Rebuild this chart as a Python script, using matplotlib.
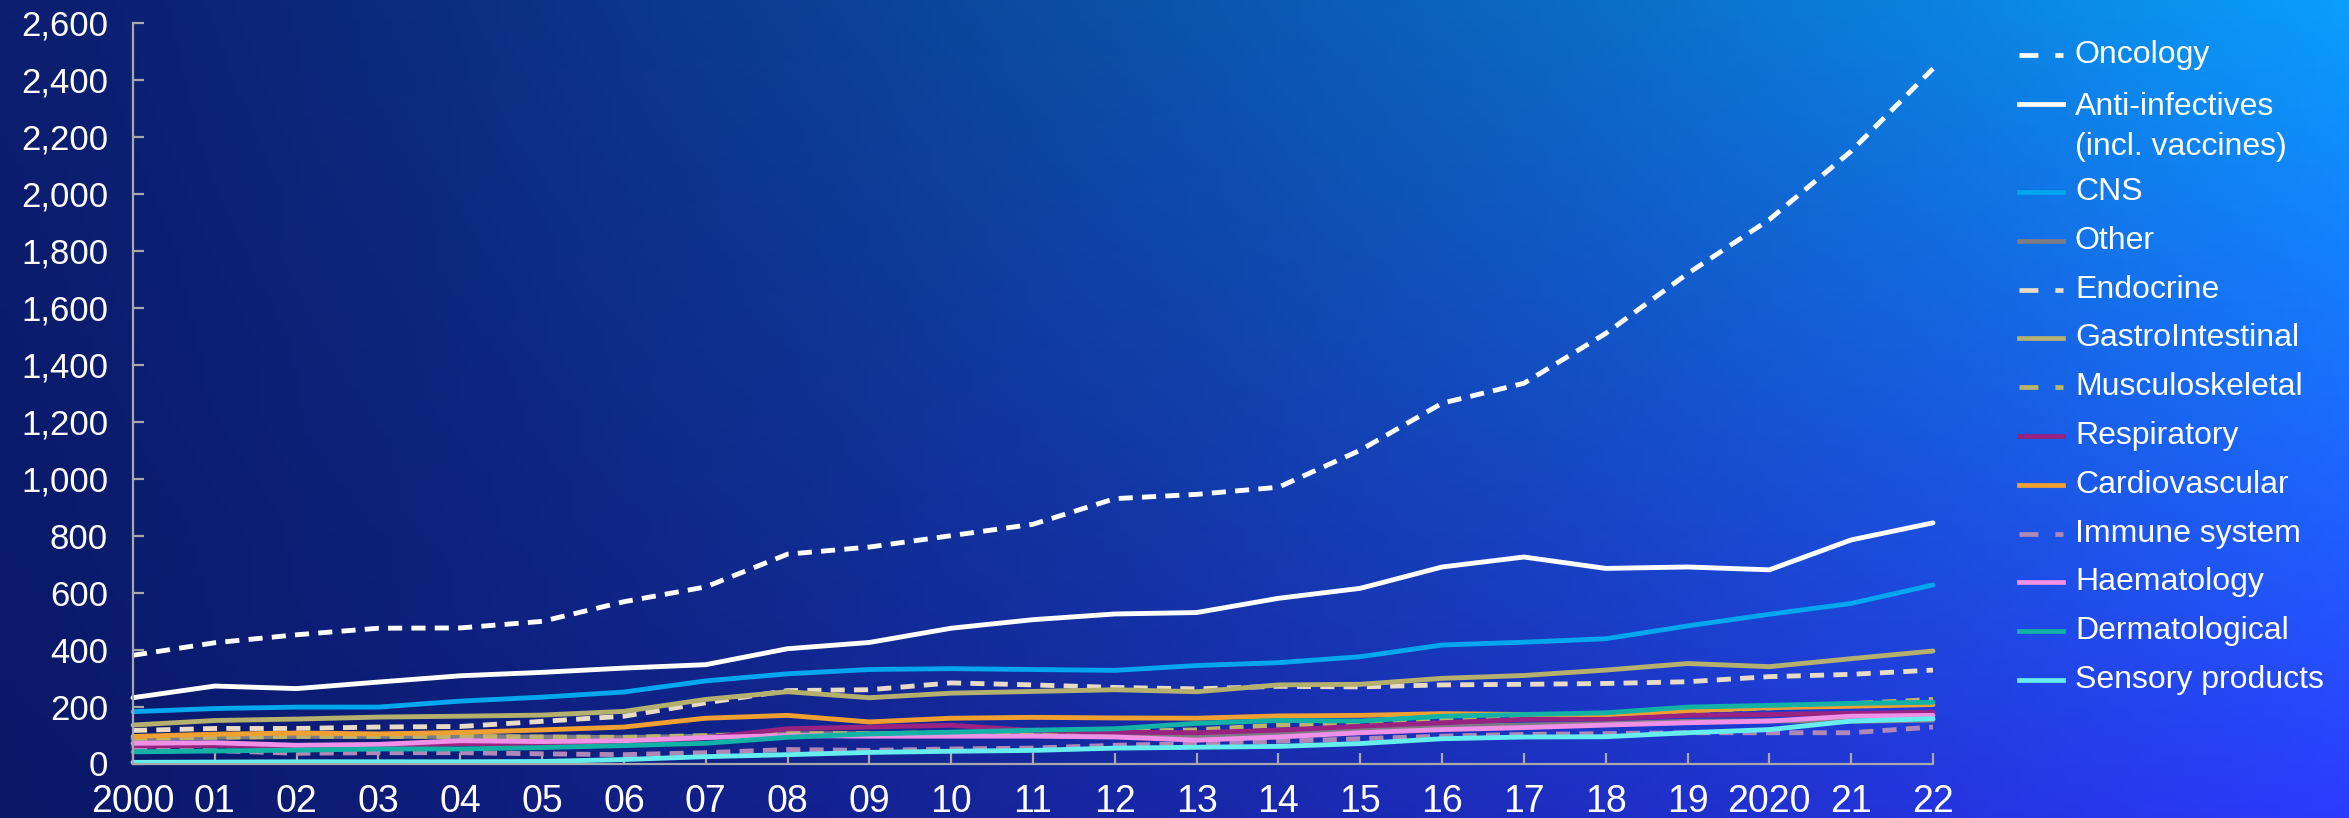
import numpy as np
import matplotlib
matplotlib.use("Agg")
import matplotlib.pyplot as plt
from matplotlib.lines import Line2D
from matplotlib.ticker import FuncFormatter

plt.rcParams['font.family'] = ['Liberation Sans', 'DejaVu Sans']

years = list(range(2000, 2023))
year_labels = ["2000", "01", "02", "03", "04", "05", "06", "07", "08", "09", "10",
               "11", "12", "13", "14", "15", "16", "17", "18", "19", "2020", "21", "22"]

oncology = [380, 424, 452, 475, 476, 499, 568, 620, 735, 760, 800, 840, 930, 945, 970,
            1100, 1265, 1335, 1510, 1720, 1910, 2150, 2440]
anti_infectives = [231, 272, 263, 286, 308, 320, 335, 347, 403, 425, 475, 505, 525, 530, 580,
                   615, 690, 725, 685, 690, 680, 785, 845]
cns = [182, 193, 198, 198, 219, 233, 251, 290, 315, 330, 333, 330, 327, 344, 354,
       375, 416, 426, 438, 483, 524, 562, 627]
other = [86, 92, 95, 95, 95, 93, 91, 96, 104, 105, 105, 102, 100, 96, 105,
         120, 130, 135, 140, 148, 150, 148, 152]
endocrine = [116, 123, 123, 128, 130, 148, 166, 213, 256, 259, 283, 276, 267, 262, 271,
             269, 276, 278, 281, 287, 305, 313, 328]
gastro = [135, 151, 156, 163, 166, 170, 183, 225, 252, 231, 247, 253, 259, 252, 276,
          278, 299, 309, 328, 351, 340, 368, 395]
musculo = [88, 92, 95, 95, 95, 93, 92, 98, 105, 105, 108, 110, 112, 118, 135,
           140, 155, 165, 170, 185, 195, 210, 225]
respiratory = [59, 64, 62, 63, 69, 71, 77, 90, 122, 128, 134, 116, 110, 108, 117,
               131, 143, 155, 157, 169, 172, 176, 180]
cardio = [95, 103, 107, 104, 109, 118, 128, 159, 169, 146, 159, 162, 160, 159, 167,
          169, 175, 172, 172, 186, 196, 201, 207]
immune = [46, 45, 36, 38, 38, 34, 31, 38, 49, 46, 51, 54, 64, 70, 78,
          87, 96, 102, 105, 108, 108, 108, 128]
haematology = [71, 73, 64, 67, 80, 77, 80, 91, 98, 96, 96, 96, 93, 82, 93,
               108, 119, 126, 135, 143, 149, 166, 169]
dermatological = [41, 44, 47, 51, 51, 56, 63, 71, 92, 104, 110, 117, 122, 141, 151,
                  149, 166, 172, 178, 198, 204, 211, 215]
sensory = [4, 5, 6, 6, 6, 7, 14, 24, 31, 39, 43, 46, 54, 57, 60,
           70, 87, 93, 94, 108, 119, 149, 157]

names = ["Oncology", "Anti-infectives\n(incl. vaccines)", "CNS", "Other", "Endocrine",
         "GastroIntestinal", "Musculoskeletal", "Respiratory", "Cardiovascular",
         "Immune system", "Haematology", "Dermatological", "Sensory products"]
series = [oncology, anti_infectives, cns, other, endocrine, gastro, musculo,
          respiratory, cardio, immune, haematology, dermatological, sensory]
colors = ["#ffffff", "#ffffff", "#00a6ee", "#7c7c84", "#e8dcc6", "#b5b06e", "#bcb46c",
          "#9a2280", "#f0a030", "#b088b8", "#f090e6", "#12b2a6", "#66eeee"]
dashed = [True, False, False, False, True, False, True, False, False, True, False, False, False]

W, H = 2349, 818
fig = plt.figure(figsize=(W / 100, H / 100), dpi=100)

# gradient background
bg = fig.add_axes([0, 0, 1, 1], zorder=-10)
bg.set_axis_off()
nx, ny = 300, 120
xx = np.linspace(0, 1, nx)[None, :, None]
yy = np.linspace(0, 1, ny)[:, None, None]
TL = np.array([12, 30, 112]) / 255
BL = np.array([10, 24, 104]) / 255
TR = np.array([10, 158, 252]) / 255
BR = np.array([44, 60, 254]) / 255
left = TL * (1 - yy) + BL * yy
right = TR * (1 - yy) + BR * yy
t = xx ** 1.25
img = left * (1 - t) + right * t
bg.imshow(np.clip(img, 0, 1), aspect='auto', extent=[0, 1, 0, 1], origin='upper')

ax = fig.add_axes([133 / W, 1 - 763.5 / H, (1933 - 133) / W, (763.5 - 23) / H])
ax.patch.set_alpha(0)

for vals, c, d in zip(series, colors, dashed):
    ln, = ax.plot(years, vals, color=c, lw=3.5, clip_on=False,
                  solid_joinstyle='round', solid_capstyle='round')
    if d:
        ln.set_linestyle((0, (2.9, 1.9)))

ax.set_xlim(2000, 2022)
ax.set_ylim(0, 2600)
ax.set_xticks(years)
ax.set_xticklabels(year_labels)
ax.set_yticks(np.arange(0, 2601, 200))
ax.yaxis.set_major_formatter(FuncFormatter(lambda v, p: f"{int(v):,}"))

for s in ["top", "right"]:
    ax.spines[s].set_visible(False)
for s in ["left", "bottom"]:
    ax.spines[s].set_color("#a8a8a8")
    ax.spines[s].set_linewidth(1.6)
ax.tick_params(axis='both', direction='in', length=8, width=1.6, color="#a8a8a8",
               labelcolor="white", labelsize=25)
ax.tick_params(axis='x', labelsize=27)
ax.tick_params(axis='y', pad=18)
ax.tick_params(axis='x', pad=15)

# legend (manual, in figure pixel coordinates)
def fx(px):
    return px / W

def fy(py):
    return 1 - py / H

row_y = [55, 104] + [192 + 48.8 * i for i in range(11)]
for name, c, d, yc in zip(names, colors, dashed, row_y):
    ln = Line2D([fx(2019), fx(2063)], [fy(yc), fy(yc)], transform=fig.transFigure,
                color=c, lw=3.4)
    if d:
        ln.set_linestyle((0, (4.0, 3.6)))
    fig.add_artist(ln)
    if "\n" in name:
        fig.text(fx(2075), fy(yc - 12), name, color="white", fontsize=23, va='top',
                 ha='left', linespacing=1.42)
    else:
        fig.text(fx(2075), fy(yc), name, color="white", fontsize=23, va='center',
                 ha='left')

fig.savefig("out.png", dpi=100)
